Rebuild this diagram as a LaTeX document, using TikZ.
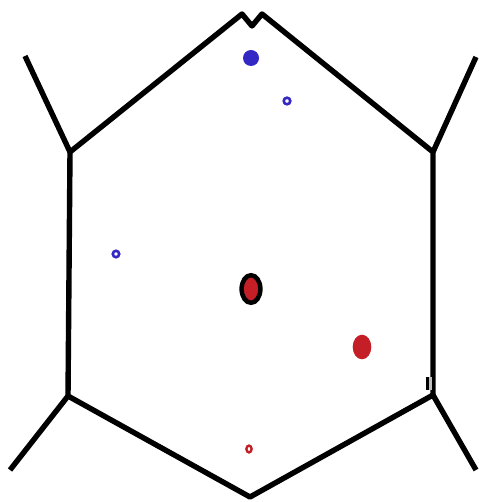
\documentclass[tikz,border=0pt]{standalone}
\definecolor{dotblue}{RGB}{52,40,196}
\definecolor{dotred}{RGB}{196,30,38}
\begin{document}
\begin{tikzpicture}[x=1pt,y=-1pt,
  edge/.style={line width=5.4pt,line join=round,black},
  bluedot/.style={fill=dotblue},
  bluering/.style={draw=dotblue,line width=2.6pt},
  reddot/.style={fill=dotred},
  redring/.style={draw=dotred,line width=2.4pt}]
\useasboundingbox (0,0) rectangle (478,502);
% vertices
\coordinate (ul) at (70,152);
\coordinate (ur) at (433,152);
\coordinate (ll) at (68,396);
\coordinate (lr) at (433,395);
\coordinate (bt) at (250,497);
\coordinate (p1) at (242,14);
\coordinate (v) at (252,26);
\coordinate (p2) at (262,14);
\coordinate (sul) at (25,56);
\coordinate (sur) at (476,57);
\coordinate (sll) at (10,470);
\coordinate (slr) at (476,470);
% hexagon
\draw[edge] (ul) -- (p1) -- (v) -- (p2) -- (ur) -- (lr) -- (bt) -- (ll) -- cycle;
% spokes
\draw[edge] (ul) -- (sul);
\draw[edge] (ur) -- (sur);
\draw[edge] (ll) -- (sll);
\draw[edge] (lr) -- (slr);
% small mark on the right edge
\fill[black] (425.5,377) rectangle (428.5,389.5);
\fill[black!25] (429,377) rectangle (432,389.5);
% dots
\fill[bluedot] (251,58) ellipse (8 and 8);
\draw[bluering] (287,101) circle (3.3);
\draw[bluering] (116,254) circle (3.2);
\draw[line width=4.5pt,fill=dotred] (251,289) ellipse (9.4 and 13.8);
\fill[reddot] (362,347) ellipse (9.3 and 12.3);
\draw[redring] (249,449) ellipse (2.6 and 3.4);
\end{tikzpicture}
\end{document}
